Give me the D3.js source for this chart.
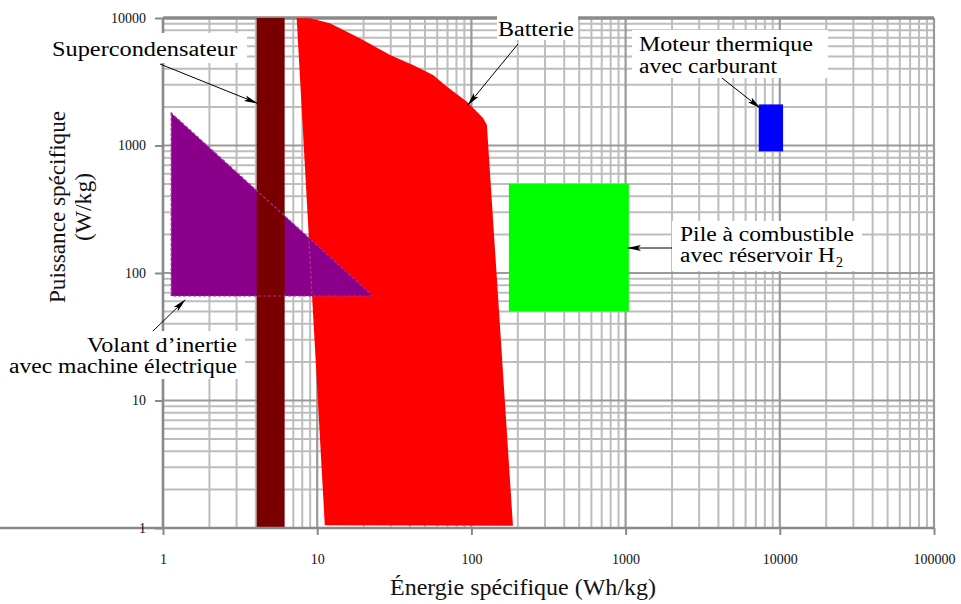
<!DOCTYPE html>
<html><head><meta charset="utf-8">
<script src="https://cdn.jsdelivr.net/npm/d3@7"></script>
<style>body{margin:0;background:#fff}svg{display:block}</style>
</head><body>
<svg id="c" width="961" height="604"></svg>
<script>
// ---- data ----
const xTicks = [1, 10, 100, 1000, 10000, 100000];
const yTicks = [1, 10, 100, 1000, 10000];
const batterieEnergie   = [7.36, 9.0, 12.1, 18.9, 29.7, 41.8, 56.4, 69.5, 93.6, 119, 126, 186, 11.2];
const batteriePuissance = [10000, 9950, 9090, 6930, 5130, 4280, 3570, 2890, 2207, 1643, 1450, 1.04, 1.05];
const volantEnergie   = [1.13, 1.13, 23];
const volantPuissance = [1800, 66, 66];
const supercondEnergie   = [4.05, 6.15];
const supercondPuissance = [1, 10000];
const pileEnergie   = [175, 1050];
const pilePuissance = [50, 500];
const moteurEnergie   = [7300, 10500];
const moteurPuissance = [900, 2100];

// ---- layout ----
const svg = d3.select("#c");
const L = 163, R = 934, T = 18, B = 528;
const x = d3.scaleLog().domain([1, 1e5]).range([L, R]);
const y = d3.scaleLog().domain([1, 1e4]).range([B, T]);
const serif = "'Liberation Serif', 'DejaVu Serif', serif";

svg.append("rect").attr("width", 961).attr("height", 604).attr("fill", "#fff");

// grid
function logVals(lo, hi) {
  const v = [];
  for (let d = lo; d < hi; d *= 10) for (let k = 1; k < 10; k++) v.push(d * k);
  v.push(hi);
  return v;
}
const xv = logVals(1, 1e5), yv = logVals(1, 1e4);
const isMajor = v => Math.abs(Math.log10(v) - Math.round(Math.log10(v))) < 1e-9;
const grid = svg.append("g");
grid.selectAll(".vx").data(xv.filter(v => !isMajor(v))).join("line")
  .attr("x1", d => x(d)).attr("x2", d => x(d)).attr("y1", T).attr("y2", B)
  .attr("stroke", "#bdbdbd").attr("stroke-width", 2);
grid.selectAll(".hy").data(yv.filter(v => !isMajor(v))).join("line")
  .attr("x1", L).attr("x2", R).attr("y1", d => y(d)).attr("y2", d => y(d))
  .attr("stroke", "#bdbdbd").attr("stroke-width", 2);
grid.selectAll(".vxM").data(xv.filter(isMajor)).join("line")
  .attr("x1", d => x(d)).attr("x2", d => x(d)).attr("y1", T).attr("y2", B)
  .attr("stroke", "#9a9a9a").attr("stroke-width", 2.2);
grid.selectAll(".hyM").data(yv.filter(isMajor)).join("line")
  .attr("x1", L).attr("x2", R).attr("y1", d => y(d)).attr("y2", d => y(d))
  .attr("stroke", "#9a9a9a").attr("stroke-width", 2.2);
// top border
grid.append("line").attr("x1", L).attr("x2", R).attr("y1", y(1e4)).attr("y2", y(1e4))
  .attr("stroke", "#8a8a8a").attr("stroke-width", 3.5);

// ---- shapes ----
const poly = (E, P) => E.map((e, i) => [x(e), y(P[i])]);
const lineGen = d3.line().curve(d3.curveLinearClosed);
const batPts = poly(batterieEnergie, batteriePuissance);
const volPts = poly(volantEnergie, volantPuissance);

const defs = svg.append("defs");
defs.append("clipPath").attr("id", "volclip").append("path").attr("d", lineGen(volPts));

svg.append("path").attr("d", lineGen(batPts)).attr("fill", "#ff0000");
svg.append("path").attr("d", lineGen(volPts)).attr("fill", "#8b008b");
// battery outline showing through the flywheel zone
svg.append("path").attr("d", lineGen(batPts)).attr("fill", "none")
  .attr("clip-path", "url(#volclip)")
  .attr("stroke", "#c0307a").attr("stroke-width", 1.2).attr("stroke-dasharray", "3,2");
svg.append("rect")
  .attr("x", x(supercondEnergie[0])).attr("width", x(supercondEnergie[1]) - x(supercondEnergie[0]))
  .attr("y", y(supercondPuissance[1])).attr("height", y(supercondPuissance[0]) - y(supercondPuissance[1]))
  .attr("fill", "#7a0000");
// flywheel dashed outline over everything
svg.append("path").attr("d", lineGen(volPts)).attr("fill", "none")
  .attr("stroke", "#a030a0").attr("stroke-width", 1.2).attr("stroke-dasharray", "3,2");
svg.append("rect")
  .attr("x", x(pileEnergie[0])).attr("width", x(pileEnergie[1]) - x(pileEnergie[0]))
  .attr("y", y(pilePuissance[1])).attr("height", y(pilePuissance[0]) - y(pilePuissance[1]))
  .attr("fill", "#00ff00");
svg.append("rect")
  .attr("x", x(moteurEnergie[0])).attr("width", x(moteurEnergie[1]) - x(moteurEnergie[0]))
  .attr("y", y(moteurPuissance[1])).attr("height", y(moteurPuissance[0]) - y(moteurPuissance[1]))
  .attr("fill", "#0000ff");

// ---- axes ----
const xAxis = svg.append("g").attr("transform", `translate(0,${B})`)
  .call(d3.axisBottom(x).tickValues(xTicks).tickSize(7).tickPadding(19).tickFormat(d3.format("d")));
const yAxis = svg.append("g").attr("transform", `translate(${L},0)`)
  .call(d3.axisLeft(y).tickValues(yTicks).tickSize(8).tickPadding(9).tickFormat(d3.format("d")));
[xAxis, yAxis].forEach(a => {
  a.select(".domain").attr("stroke", "#8a8a8a").attr("stroke-width", 2.5);
  a.selectAll(".tick line").attr("stroke", "#8a8a8a").attr("stroke-width", 2);
  a.selectAll(".tick text").attr("font-family", serif).attr("font-size", 14).attr("fill", "#111");
});
yAxis.select(".domain").attr("d", `M0,${B}V${T}`);
xAxis.select(".domain").attr("d", `M0,0H${R}`);

// ---- annotations ----
const annotations = [
  { lines: ["Supercondensateur"], tx: 237, ty: [56], anchor: "end", len: [185],
    box: [40, 33, 207, 30], from: [160, 64], to: [4.07, 2150] },
  { lines: ["Batterie"], tx: 498, ty: [36], anchor: "start", len: [76],
    box: [497, 13, 81, 27], from: [518, 44], to: [95, 2080] },
  { lines: ["Moteur thermique", "avec carburant"], tx: 639, ty: [51, 73], anchor: "start", len: [174, 138],
    box: [632, 30, 196, 48], from: [722, 78], to: [7440, 1970] },
  { lines: ["Pile à combustible", "avec réservoir H"], sub: "2", tx: 680, ty: [241, 262], anchor: "start", len: [174, 155],
    box: [672, 221, 190, 50], from: [672, 248], to: [1036, 157] },
  { lines: ["Volant d\u2019inertie", "avec machine électrique"], tx: 237, ty: [352, 373], anchor: "end", len: [150, 228],
    box: [0, 331, 245, 48], from: [153, 331], to: [1.39, 61.4] },
];

defs.append("marker").attr("id", "ah").attr("viewBox", "0 0 14 8")
  .attr("refX", 13).attr("refY", 4).attr("markerWidth", 14).attr("markerHeight", 8)
  .attr("markerUnits", "userSpaceOnUse").attr("orient", "auto")
  .append("path").attr("d", "M0,1 L14,4 L0,7 L3,4 Z").attr("fill", "#000");

const ann = svg.append("g");
annotations.forEach(a => {
  ann.append("rect").attr("x", a.box[0]).attr("y", a.box[1]).attr("width", a.box[2]).attr("height", a.box[3])
    .attr("fill", "#fff");
});
annotations.forEach(a => {
  ann.append("line").attr("x1", a.from[0]).attr("y1", a.from[1])
    .attr("x2", x(a.to[0])).attr("y2", y(a.to[1]))
    .attr("stroke", "#000").attr("stroke-width", 1).attr("marker-end", "url(#ah)");
  a.lines.forEach((t, i) => {
    ann.append("text").attr("x", a.tx).attr("y", a.ty[i]).attr("text-anchor", a.anchor)
      .attr("font-family", serif).attr("font-size", 20).attr("fill", "#000")
      .attr("textLength", a.len[i]).attr("lengthAdjust", "spacingAndGlyphs").text(t);
    if (a.sub && i === a.lines.length - 1) {
      ann.append("text").attr("x", a.tx + a.len[i] + 1).attr("y", a.ty[i] + 5)
        .attr("font-family", serif).attr("font-size", 14).attr("fill", "#000").text(a.sub);
    }
  });
});

// ---- axis titles ----
svg.append("text").attr("x", 523).attr("y", 595).attr("text-anchor", "middle")
  .attr("font-family", serif).attr("font-size", 23).attr("fill", "#111")
  .attr("textLength", 266).attr("lengthAdjust", "spacingAndGlyphs")
  .text("Énergie spécifique (Wh/kg)");
const yt = svg.append("g").attr("transform", "translate(65,207) rotate(-90)");
yt.append("text").attr("x", 0).attr("y", 0).attr("text-anchor", "middle")
  .attr("font-family", serif).attr("font-size", 24).attr("fill", "#111")
  .attr("textLength", 192).attr("lengthAdjust", "spacingAndGlyphs")
  .text("Puissance spécifique");
yt.append("text").attr("x", 0).attr("y", 26).attr("text-anchor", "middle")
  .attr("font-family", serif).attr("font-size", 24).attr("fill", "#111")
  .attr("textLength", 68).attr("lengthAdjust", "spacingAndGlyphs")
  .text("(W/kg)");
</script>
</body></html>
